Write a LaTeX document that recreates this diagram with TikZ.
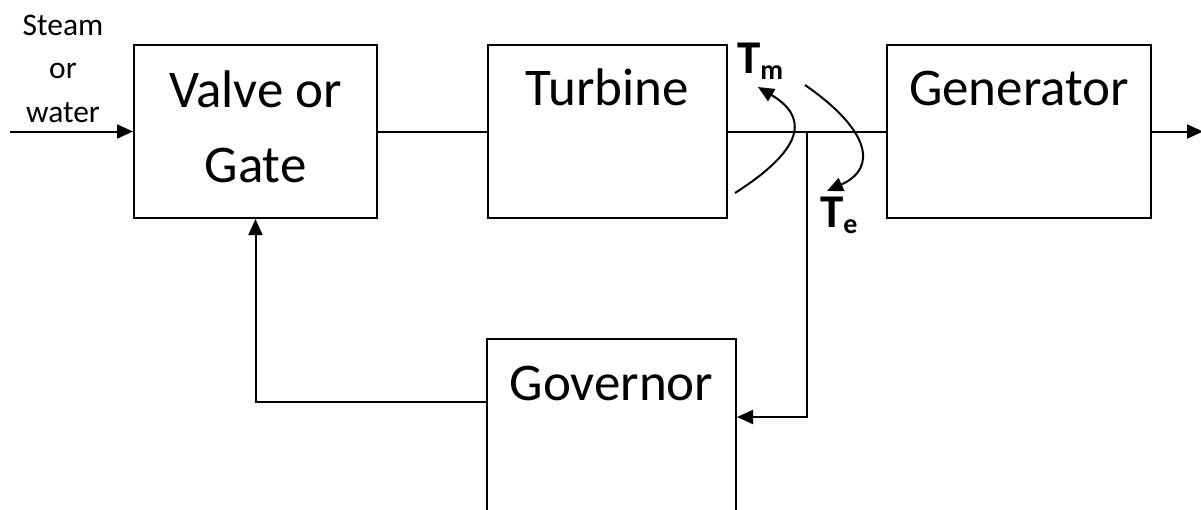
\documentclass[tikz,border=0pt]{standalone}
\usepackage{fontspec}
\setmainfont{Carlito}
\usetikzlibrary{arrows.meta}
\newcommand{\torqsub}[1]{\raisebox{-6pt}{\fontsize{28}{28}\selectfont #1}}
\begin{document}
\begin{tikzpicture}[x=1pt, y=-1pt, line width=2pt,
    block/.style={draw, rectangle, inner sep=0pt, minimum height=173pt},
    big/.style={font=\fontsize{53}{75}\selectfont, inner sep=0pt, align=center, anchor=base},
    torque/.style={font=\fontsize{47}{47}\selectfont\bfseries, inner sep=0pt, anchor=base west},
    arr/.style={-{Triangle[length=16pt,width=14pt]}}]
        \useasboundingbox (0,0) rectangle (1201,509);
        \clip (0,0) rectangle (1201,509);
        \node at (255.5,131.5) (valve) [block, minimum width=243pt] {};
        \node at (607.5,131.5) (turbine) [block, minimum width=239pt] {};
        \node at (1019,131.5) (generator) [block, minimum width=264pt] {};
        \node at (611.5,450) (governor) [block, minimum width=249pt, minimum height=222pt] {};
        \node at (255.5,182) (valvetxt) [big] {Valve or\\Gate};
        \node at (607.5,105) (turbinetxt) [big] {Turbine};
        \node at (1019,105) (generatortxt) [big] {Generator};
        \node at (611.5,400) (governortxt) [big] {Governor};
        \node at (63,122) (steam) [font=\fontsize{31.5}{43.5}\selectfont, inner sep=0pt, align=center, anchor=base] {Steam\\or\\water};
        \node at (736,73) (tm) [torque] {T\torqsub{m}};
        \node at (819,227) (te) [torque] {T\torqsub{e}};
        \coordinate (in) at (10,131.5);
        \coordinate (out) at (1203,131.5);
        \coordinate (tap) at (807,131.5);
        \path (governor.north east) ++(0,79) coordinate (govin);
        \path (governor.north west) ++(0,64) coordinate (govout);
        \draw[arr] (in) -- (valve.west);
        \draw (valve.east) -- (turbine.west);
        \draw (turbine.east) -- (generator.west);
        \draw[arr] (generator.east) -- (out);
        \draw[arr] (tap) |- (govin);
        \draw[arr] (govout) -| (valve.south);
        % torque arrows
        \coordinate (tmfrom) at (735,193);
        \coordinate (tefrom) at (805,85);
        \draw[arr] (tmfrom) .. controls (810,145) and (805,115) .. (758,87);
        \draw[arr] (tefrom) .. controls (870,130) and (878,168) .. (827,191);
\end{tikzpicture}
\end{document}
